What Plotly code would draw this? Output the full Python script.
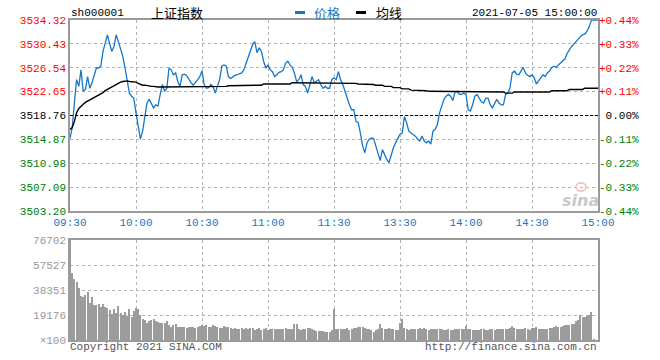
import plotly.graph_objects as go

# ---------------- data ----------------
prev_close = 3518.76

price = [
    3515.0, 3516.8, 3520.8, 3524.6, 3523.5, 3526.2, 3522.7, 3523.0, 3525.1, 3523.2,
    3524.1, 3525.4, 3526.5, 3526.5, 3526.8, 3529.2, 3530.8, 3531.9, 3530.5, 3529.2,
    3530.0, 3531.9, 3530.8, 3529.7, 3528.4, 3526.5, 3524.3, 3522.4, 3521.9, 3521.6,
    3519.2, 3517.3, 3514.9, 3516.2, 3518.4, 3520.8, 3521.4, 3520.8, 3520.0, 3520.5,
    3520.3, 3522.2, 3523.8, 3522.7, 3523.2, 3526.5, 3526.2, 3525.4, 3525.7, 3524.3,
    3523.5, 3525.4, 3525.5, 3525.3, 3524.6, 3524.1, 3523.7, 3524.1, 3524.6, 3525.1,
    3526.0, 3523.8, 3523.2, 3523.3, 3523.8, 3523.5, 3522.4, 3523.5, 3524.6, 3526.8,
    3527.0, 3526.8, 3525.1, 3524.8, 3525.1, 3525.3, 3525.4, 3525.5, 3525.7, 3526.2,
    3527.3, 3528.4, 3529.5, 3530.3, 3530.8, 3529.0, 3529.8, 3529.2, 3527.6, 3526.5,
    3527.0, 3526.2, 3525.9, 3525.1, 3525.4, 3525.8, 3525.9, 3526.2, 3527.3, 3527.6,
    3527.0, 3526.6, 3525.7, 3524.3, 3524.6, 3525.4, 3523.8, 3523.5, 3522.4, 3523.8,
    3525.1, 3524.1, 3524.3, 3524.6, 3523.8, 3523.2, 3523.5, 3523.2, 3523.2, 3524.6,
    3524.9, 3524.6, 3525.9, 3524.6, 3523.8, 3522.7, 3521.4, 3520.5, 3519.7, 3519.7,
    3517.8, 3517.6, 3515.9, 3513.8, 3512.7, 3514.3, 3514.9, 3515.1, 3515.0, 3513.8,
    3512.4, 3511.4, 3513.2, 3512.4, 3511.6, 3511.1, 3512.4, 3513.5, 3514.3, 3515.1,
    3515.7, 3515.9, 3518.6, 3517.6, 3516.2, 3515.9, 3515.7, 3515.4, 3514.9, 3514.6,
    3515.4, 3514.6, 3514.3, 3514.6, 3514.1, 3516.2, 3516.5, 3517.3, 3519.2, 3520.5,
    3521.4, 3521.9, 3522.2, 3521.9, 3521.2, 3522.6, 3522.7, 3522.2, 3522.2, 3522.4,
    3522.2, 3519.7, 3519.5, 3520.5, 3521.9, 3522.2, 3521.6, 3521.0, 3520.8, 3521.6,
    3521.6, 3520.5, 3520.0, 3520.8, 3521.4, 3520.8, 3520.5, 3520.5, 3522.2, 3522.4,
    3523.3, 3525.7, 3526.0, 3525.5, 3525.4, 3526.0, 3526.6, 3525.7, 3525.3, 3525.1,
    3525.4, 3524.9, 3523.9, 3524.4, 3524.9, 3525.4, 3525.1, 3525.7, 3526.0, 3526.6,
    3526.8, 3526.6, 3527.0, 3527.3, 3527.6, 3528.0, 3528.9, 3529.5, 3530.0, 3530.4,
    3530.8, 3531.3, 3531.6, 3531.9, 3532.0, 3532.5, 3533.2, 3534.3, 3534.3, 3534.3,
    3534.3,
]

avg_price = [
    3516.5, 3516.8, 3517.8, 3519.2, 3519.9, 3520.3, 3520.6, 3520.9, 3521.1, 3521.2,
    3521.4, 3521.6, 3521.8, 3522.0, 3522.3, 3522.5, 3522.8, 3523.0, 3523.2, 3523.5,
    3523.6, 3523.8, 3524.0, 3524.2, 3524.3, 3524.4, 3524.4, 3524.3, 3524.3, 3524.3,
    3524.2, 3524.0, 3523.8, 3523.7, 3523.7, 3523.6, 3523.6, 3523.5, 3523.5, 3523.4,
    3523.4, 3523.4, 3523.4, 3523.4, 3523.4, 3523.4, 3523.4, 3523.4, 3523.4, 3523.4,
    3523.4, 3523.5, 3523.5, 3523.5, 3523.5, 3523.5, 3523.5, 3523.5, 3523.5, 3523.5,
    3523.5, 3523.5, 3523.5, 3523.5, 3523.5, 3523.5, 3523.5, 3523.5, 3523.5, 3523.5,
    3523.5, 3523.5, 3523.6, 3523.6, 3523.6, 3523.6, 3523.6, 3523.6, 3523.6, 3523.6,
    3523.6, 3523.6, 3523.7, 3523.7, 3523.7, 3523.7, 3523.7, 3523.7, 3523.9, 3523.9,
    3523.9, 3523.9, 3523.9, 3523.9, 3523.9, 3523.9, 3523.9, 3523.9, 3523.9, 3523.9,
    3523.9, 3524.1, 3524.1, 3524.1, 3524.1, 3524.1, 3524.1, 3524.1, 3524.1, 3524.1,
    3524.1, 3524.1, 3524.1, 3524.1, 3524.1, 3524.1, 3524.1, 3524.1, 3524.1, 3524.1,
    3524.1, 3524.1, 3524.1, 3524.1, 3524.1, 3524.1, 3524.1, 3524.0, 3524.0, 3524.0,
    3524.0, 3523.9, 3523.9, 3523.9, 3523.9, 3523.8, 3523.8, 3523.8, 3523.8, 3523.7,
    3523.7, 3523.7, 3523.7, 3523.5, 3523.5, 3523.5, 3523.5, 3523.3, 3523.3, 3523.3,
    3523.3, 3523.1, 3523.1, 3523.1, 3523.1, 3522.9, 3522.9, 3522.9, 3522.9, 3522.8,
    3522.8, 3522.8, 3522.8, 3522.7, 3522.7, 3522.7, 3522.7, 3522.6, 3522.6, 3522.6,
    3522.6, 3522.6, 3522.6, 3522.6, 3522.6, 3522.6, 3522.6, 3522.6, 3522.6, 3522.6,
    3522.6, 3522.6, 3522.6, 3522.6, 3522.6, 3522.6, 3522.6, 3522.6, 3522.6, 3522.6,
    3522.6, 3522.6, 3522.6, 3522.6, 3522.6, 3522.6, 3522.6, 3522.6, 3522.4, 3522.4,
    3522.4, 3522.4, 3522.6, 3522.6, 3522.6, 3522.6, 3522.6, 3522.6, 3522.6, 3522.6,
    3522.6, 3522.6, 3522.6, 3522.6, 3522.6, 3522.6, 3522.6, 3522.6, 3522.6, 3522.8,
    3522.8, 3522.8, 3522.8, 3522.8, 3522.8, 3522.8, 3522.8, 3523.0, 3523.0, 3523.0,
    3523.0, 3523.0, 3523.0, 3523.0, 3523.2, 3523.2, 3523.2, 3523.2, 3523.2, 3523.2,
    3523.2,
]

# volume in units of 100 shares
volume = [
    76702, 51650, 46540, 44750, 40150, 34000, 33240, 34500, 36570, 28640,
    33240, 26850, 26850, 27620, 25570, 27620, 25060, 24290, 23010, 19940,
    23520, 20970, 26080, 20460, 19180, 21730, 18410, 23520, 17900, 22250,
    24800, 23520, 19180, 15850, 15340, 13300, 14830, 15340, 15850, 14830,
    14060, 12790, 12790, 13300, 14830, 11510, 10230, 11510, 12020, 10230,
    9720, 10230, 9720, 9200, 10230, 9720, 10230, 8950, 10230, 10740,
    11510, 10740, 11250, 10230, 9720, 11510, 10740, 10230, 9460, 8950,
    10740, 10230, 9720, 9200, 8690, 8950, 8690, 8440, 8950, 8690,
    8950, 8690, 8950, 8950, 7670, 8180, 8950, 7670, 8440, 9460,
    7670, 8440, 8180, 8440, 8180, 8180, 8180, 8690, 8950, 8180,
    8180, 8180, 11960, 11960, 8440, 7670, 8440, 8440, 8950, 8950,
    8180, 7670, 7160, 7160, 7160, 7160, 6390, 6390, 6390, 7670,
    23780,
    8440, 8440, 8180, 8440, 8440, 8950, 7670, 8690, 9200, 9200,
    9970, 10230, 9970, 8950, 8180, 8180, 7670, 6390, 7670, 8690,
    12280, 9200, 8180, 8690, 9200, 8180, 8180, 7670, 7670,
    13300, 16370,
    8950, 8180, 7930, 8180, 8690, 8440, 8690, 8950, 8180, 8950,
    8180, 7670, 8690, 8180, 8180, 8180, 8440, 8180, 7670, 7670,
    8180, 7670, 7670, 8180, 8180, 8440, 8180, 8180,
    10740,
    8180, 8180, 7670, 7670, 7930, 7670, 8180, 8180, 7670, 7670,
    8180, 8180, 7670, 8180, 8180, 8180, 8180, 8690, 8690, 8950,
    10740, 9460, 8440, 8180, 8440, 8690, 9460, 8180, 7670,
    8950,
    9460, 9720, 8690, 8440, 8440, 8440, 8690, 9200, 9460, 10230,
    10740, 10230, 10230, 11000, 11250, 11510, 11510, 12020, 12280,
    14830, 15340, 18920, 17900, 17390, 18410, 18920, 21480, 510, 0, 0,
]

time_labels = ["09:30", "10:00", "10:30", "11:00", "11:30", "13:30", "14:00", "14:30", "15:00"]
time_label_pos = [0, 30, 60, 90, 120, 150, 180, 210, 240]

price_ticks = [3503.20, 3507.09, 3510.98, 3514.87, 3518.76, 3522.65, 3526.54, 3530.43, 3534.32]
pct_labels = ["-0.44%", "-0.33%", "-0.22%", "-0.11%", "\u00a00.00%", "+0.11%", "+0.22%", "+0.33%", "+0.44%"]
vol_ticks = [0, 19176, 38351, 57527, 76702]
vol_labels = ["×100", "19176", "38351", "57527", "76702"]

# ---------------- styling ----------------
W, H = 660, 360
BLUE = "#1677c9"
RED = "#ff0000"
GREEN = "#008000"
MONO = "Liberation Mono, DejaVu Sans Mono, monospace"
CJK = "Noto Sans CJK SC"
GRID = "#b4b4b4"
FRAME = "#9a9a9a"

minutes = list(range(len(price)))


def col_for(v):
    if abs(v - prev_close) < 1e-6:
        return "#000000"
    return RED if v > prev_close else GREEN


left_text = [f'<span style="color:{col_for(v)}">{v:.2f}</span>' for v in price_ticks]
right_text = [f'<span style="color:{col_for(v)}">{t}</span>' for v, t in zip(price_ticks, pct_labels)]

px = lambda x: x / W
py = lambda y: 1 - y / H

fig = go.Figure()

fig.add_trace(go.Bar(x=minutes, y=volume, width=0.4,
                     marker=dict(color="#9c9c9c", line=dict(width=0)),
                     xaxis="x2", yaxis="y2", hoverinfo="skip"))
fig.add_trace(go.Scatter(x=minutes, y=price, mode="lines",
                         line=dict(color=BLUE, width=1.3), xaxis="x", yaxis="y",
                         name="价格", hoverinfo="skip"))
# average line drawn on the right-hand (percent) axis, which shares the price range
fig.add_trace(go.Scatter(x=minutes, y=avg_price, mode="lines",
                         line=dict(color="#000000", width=1.4), xaxis="x", yaxis="y3",
                         name="均线", hoverinfo="skip"))

# previous close dashed line
fig.add_shape(type="line", xref="x", yref="y", x0=minutes[0], x1=minutes[-1],
              y0=prev_close, y1=prev_close,
              line=dict(color="#000000", width=1, dash="3px,2px"), layer="above")

xdom = [px(70), px(598)]
common_x = dict(domain=xdom, range=[minutes[0], minutes[-1]], tickvals=time_label_pos,
                showgrid=True, gridcolor=GRID, griddash="dot", gridwidth=1,
                showline=True, mirror=True, linecolor=FRAME, linewidth=1.5,
                ticks="", zeroline=False, automargin=False, fixedrange=True)

fig.update_layout(
    width=W, height=H, template="none",
    margin=dict(l=0, r=0, t=0, b=0, pad=0),
    paper_bgcolor="white", plot_bgcolor="white",
    showlegend=False, bargap=0,
    xaxis=dict(common_x, anchor="y", ticktext=time_labels, showticklabels=True,
               tickfont=dict(family=MONO, size=11, color=BLUE)),
    yaxis=dict(domain=[py(211), py(20)], range=[price_ticks[0], price_ticks[-1]],
               tickvals=price_ticks, ticktext=left_text, anchor="x",
               showgrid=True, gridcolor=GRID, griddash="dot", gridwidth=1,
               showline=True, mirror=True, linecolor=FRAME, linewidth=1.5,
               ticks="", zeroline=False, automargin=False, fixedrange=True,
               tickfont=dict(family=MONO, size=11)),
    yaxis3=dict(overlaying="y", side="right", anchor="x",
                range=[price_ticks[0], price_ticks[-1]],
                tickvals=price_ticks, ticktext=right_text, showgrid=False,
                showline=False, ticks="", zeroline=False, automargin=False,
                fixedrange=True, tickfont=dict(family=MONO, size=11)),
    xaxis2=dict(common_x, anchor="y2", showticklabels=False),
    yaxis2=dict(domain=[py(340), py(240)], range=[0, max(volume)],
                tickvals=vol_ticks, ticktext=vol_labels, anchor="x2",
                showgrid=True, gridcolor=GRID, griddash="dot", gridwidth=1,
                showline=True, mirror=True, linecolor=FRAME, linewidth=1.5,
                ticks="", zeroline=False, automargin=False, fixedrange=True,
                tickfont=dict(family=MONO, size=11, color="#999999")),
)

# header texts
ann = [
    dict(text="sh000001", x=px(70), y=py(13), xanchor="left",
         font=dict(family=MONO, size=11, color="#000")),
    dict(text="上证指数", x=px(150), y=py(12.5), xanchor="left",
         font=dict(family=CJK, size=13, color="#000")),
    dict(text="价格", x=px(313), y=py(12.5), xanchor="left",
         font=dict(family=CJK, size=13, color=BLUE)),
    dict(text="均线", x=px(375), y=py(12.5), xanchor="left",
         font=dict(family=CJK, size=13, color="#000")),
    dict(text="2021-07-05 15:00:00", x=px(598), y=py(13), xanchor="right",
         font=dict(family=MONO, size=11, color="#000")),
    dict(text="Copyright 2021 SINA.COM", x=px(69), y=py(347), xanchor="left",
         font=dict(family=MONO, size=11, color="#555")),
    dict(text="http://finance.sina.com.cn", x=px(598), y=py(347), xanchor="right",
         font=dict(family=MONO, size=11, color="#555")),
    dict(text="<b><i>sina</i></b>", x=px(580), y=py(200), xanchor="center",
         font=dict(family="DejaVu Sans", size=16, color="#c8c8c8")),
]
for a in ann:
    fig.add_annotation(xref="paper", yref="paper", yanchor="middle",
                       showarrow=False, borderpad=0, **a)

# legend markers
fig.add_shape(type="rect", xref="paper", yref="paper", x0=px(295), x1=px(305),
              y0=py(14), y1=py(11), fillcolor=BLUE, line=dict(width=0))
fig.add_shape(type="rect", xref="paper", yref="paper", x0=px(356), x1=px(366),
              y0=py(14), y1=py(11), fillcolor="#000", line=dict(width=0))
# small sina eye logo hint
fig.add_shape(type="circle", xref="paper", yref="paper", x0=px(576), x1=px(586),
              y0=py(191), y1=py(183), line=dict(color="#f2b8b8", width=1.5),
              fillcolor="rgba(0,0,0,0)")

fig.write_html("out.html", config={"displayModeBar": False},
               post_script="document.body.style.margin='0';document.body.style.overflow='hidden';")
